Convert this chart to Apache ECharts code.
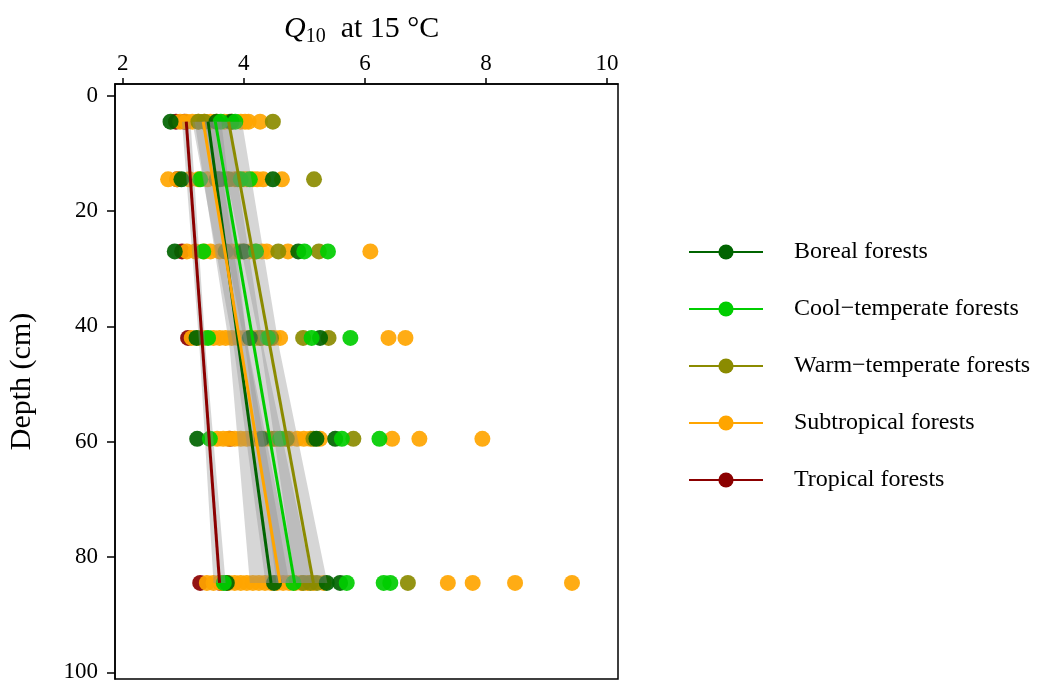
<!DOCTYPE html>
<html>
<head>
<meta charset="utf-8">
<script src="https://cdn.jsdelivr.net/npm/echarts@6/dist/echarts.min.js"></script>
<style>
  html, body { margin: 0; padding: 0; background: #fff; }
  #main { width: 1040px; height: 684px; }
</style>
</head>
<body>
<div id="main"></div>
<script>
// depth of each sampling layer (cm)
const depths = [4.5, 14.5, 27, 42, 59.5, 84.5];
const xTicks = [2, 4, 6, 8, 10];
const yTicks = [0, 20, 40, 60, 80, 100];

const groupNames = ['Boreal forests', 'Cool\u2212temperate forests', 'Warm\u2212temperate forests', 'Subtropical forests', 'Tropical forests'];
const colors = ['#006400', '#00cd00', '#8b8b00', '#ffa500', '#8b0000'];

// Q10 values per layer (one inner list per depth)
const borealQ10 = [
  [2.79, 3.55, 3.80],
  [2.97, 3.60, 4.48],
  [2.86, 4.00, 4.90],
  [3.22, 4.10, 5.26],
  [3.23, 4.30, 5.20, 5.51],
  [3.72, 4.50, 5.37, 5.59]
];
const coolQ10 = [
  [3.62, 3.86],
  [3.28, 3.95, 4.10],
  [3.33, 4.20, 5.00, 5.39],
  [3.41, 4.40, 5.12, 5.76],
  [3.44, 4.60, 5.62, 6.24],
  [3.67, 4.82, 5.70, 6.31, 6.42]
];
const warmQ10 = [
  [3.25, 3.35, 3.77, 4.48],
  [3.55, 3.75, 3.90, 5.16],
  [3.70, 3.95, 4.57, 5.24],
  [4.27, 4.45, 4.98, 5.40],
  [4.50, 4.71, 5.15, 5.81],
  [4.98, 5.10, 5.21, 6.71]
];
const subtropQ10 = [
  [2.95, 3.05, 3.15, 3.25, 3.35, 3.45, 3.55, 3.68, 3.80, 3.95, 4.02, 4.08, 4.27],
  [2.75, 2.90, 3.10, 3.25, 3.40, 3.55, 3.70, 3.85, 4.00, 4.05, 4.15, 4.22, 4.32, 4.63],
  [3.06, 3.20, 3.35, 3.45, 3.60, 3.70, 3.80, 3.90, 4.00, 4.10, 4.20, 4.30, 4.38, 4.73, 6.09],
  [3.14, 3.25, 3.35, 3.50, 3.60, 3.70, 3.80, 3.90, 4.00, 4.10, 4.20, 4.30, 4.40, 4.50, 4.60, 6.39, 6.67],
  [3.56, 3.66, 3.75, 3.85, 3.95, 4.05, 4.15, 4.25, 4.35, 4.45, 4.55, 4.65, 4.75, 4.88, 4.99, 5.10, 5.26, 6.45, 6.90, 7.94],
  [3.39, 3.50, 3.62, 3.75, 3.85, 3.95, 4.05, 4.15, 4.25, 4.35, 4.45, 4.55, 4.65, 4.75, 4.85, 4.95, 5.05, 5.15, 5.32, 7.37, 7.78, 8.48, 9.42]
];
const tropQ10 = [
  [2.88, 3.02],
  [2.90],
  [2.98],
  [3.08],
  [3.77],
  [3.28, 3.61]
];

// fitted lines (top and bottom layer)
const fitDepth = [4.5, 84.5];
const borealFit = [3.41, 4.45];
const coolFit = [3.53, 4.84];
const warmFit = [3.75, 5.15];
const subtropFit = [3.33, 4.60];
const tropFit = [3.05, 3.60];

// confidence bands
const bandDepth = [4.5, 44, 84.5];
const borealLo = [3.19, 3.77, 4.10];
const borealHi = [3.63, 4.07, 4.75];
const coolLo = [3.31, 4.03, 4.54];
const coolHi = [3.75, 4.33, 5.14];
const warmLo = [3.53, 4.29, 4.85];
const warmHi = [3.97, 4.59, 5.38];
const subtropLo = [3.15, 3.84, 4.36];
const subtropHi = [3.51, 4.08, 4.84];
const tropLo = [2.98, 3.27, 3.50];
const tropHi = [3.12, 3.37, 3.70];

const q10s = [borealQ10, coolQ10, warmQ10, subtropQ10, tropQ10];
const fits = [borealFit, coolFit, warmFit, subtropFit, tropFit];
const bandLo = [borealLo, coolLo, warmLo, subtropLo, tropLo];
const bandHi = [borealHi, coolHi, warmHi, subtropHi, tropHi];

const serif = 'Liberation Serif';

let myChart = echarts.init(document.getElementById('main'));

let series = [];
// lines first so the legend picks the line icon
for (let g = 0; g < 5; g++) {
  series.push({
    name: groupNames[g],
    type: 'line',
    z: 4,
    symbol: 'circle',
    showSymbol: false,
    color: colors[g],
    lineStyle: { width: 3, color: colors[g] },
    data: fitDepth.map((d, i) => [fits[g][i], d])
  });
}
// points, drawn in this order
const pointOrder = [4, 3, 2, 0, 1];
pointOrder.forEach(function (g) {
  let pts = [];
  depths.forEach(function (d, i) {
    q10s[g][i].forEach(v => pts.push([v, d]));
  });
  series.push({
    name: groupNames[g],
    type: 'scatter',
    z: 2,
    symbolSize: 16,
    itemStyle: { color: colors[g], opacity: 0.92 },
    data: pts
  });
});
// grey bands
series.push({
  type: 'custom',
  z: 3,
  silent: true,
  renderItem: function (params, api) {
    let g = params.dataIndex;
    let points = [];
    bandDepth.forEach((d, i) => points.push(api.coord([bandLo[g][i], d])));
    for (let i = bandDepth.length - 1; i >= 0; i--) points.push(api.coord([bandHi[g][i], bandDepth[i]]));
    return { type: 'polygon', shape: { points: points }, style: { fill: 'rgba(140,140,140,0.36)' } };
  },
  data: [[3, 10], [3, 10], [3, 10], [3, 10], [3, 10]]
});

let option = {
  backgroundColor: '#fff',
  animation: false,
  textStyle: { fontFamily: serif, color: '#000' },
  title: {
    text: '{q|Q}{s|10}{t|  at 15 \u00b0C}',
    left: 279,
    top: 6,
    textStyle: {
      fontWeight: 'normal',
      rich: {
        q: { fontFamily: serif, fontSize: 30, fontStyle: 'italic', fontWeight: 'normal', color: '#000', lineHeight: 36 },
        s: { fontFamily: serif, fontSize: 20, fontWeight: 'normal', color: '#000', verticalAlign: 'bottom', lineHeight: 36 },
        t: { fontFamily: serif, fontSize: 30, fontWeight: 'normal', color: '#000', lineHeight: 36 }
      }
    }
  },
  grid: {
    left: 115, top: 84, right: 422, bottom: 5,
    show: true, borderColor: '#000', borderWidth: 1.5, backgroundColor: '#fff'
  },
  legend: {
    orient: 'vertical',
    left: 683,
    top: 235,
    itemWidth: 74,
    itemHeight: 19,
    itemGap: 33,
    data: groupNames,
    textStyle: { fontFamily: serif, fontSize: 24, color: '#000', padding: [0, 0, 0, 26] }
  },
  xAxis: {
    type: 'value',
    position: 'top',
    min: 1.873,
    max: 10.18,
    axisLine: { show: true, onZero: false, lineStyle: { color: '#000', width: 1.5 } },
    axisTick: { show: true, length: 6, customValues: xTicks, lineStyle: { color: '#000', width: 1.5 } },
    axisLabel: { customValues: xTicks, margin: 9, fontFamily: serif, fontSize: 23, color: '#000' },
    splitLine: { show: false }
  },
  yAxis: {
    type: 'value',
    inverse: true,
    min: -2.03,
    max: 101.16,
    name: 'Depth (cm)',
    nameLocation: 'middle',
    nameGap: 78,
    nameTextStyle: { fontFamily: serif, fontSize: 30, color: '#000' },
    axisLine: { show: true, onZero: false, lineStyle: { color: '#000', width: 1.5 } },
    axisTick: { show: true, length: 8, customValues: yTicks, lineStyle: { color: '#000', width: 1.5 } },
    axisLabel: { customValues: yTicks, margin: 17, fontFamily: serif, fontSize: 23, color: '#000' },
    splitLine: { show: false }
  },
  series: series
};
myChart.setOption(option);
</script>
</body>
</html>
